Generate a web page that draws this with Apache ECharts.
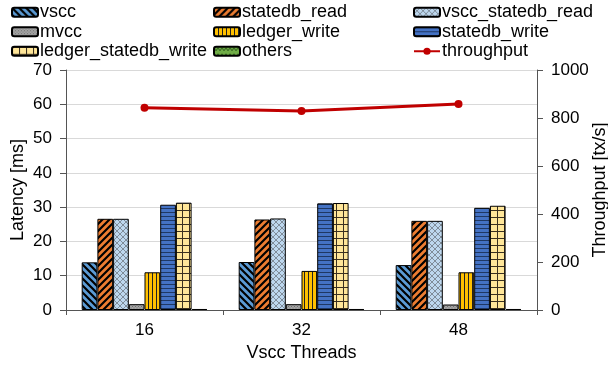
<!DOCTYPE html>
<html><head><meta charset="utf-8">
<script src="https://cdn.jsdelivr.net/npm/echarts@6/dist/echarts.min.js"></script>
<style>html,body{margin:0;padding:0;background:#fff}#c{width:608px;height:368px}</style>
</head><body><div id="c"></div>
<script>
const categories = ['16', '32', '48'];
const vscc = [13.9, 14.0, 13.1];
const statedb_read = [26.6, 26.4, 26.0];
const vscc_statedb_read = [26.6, 26.7, 26.0];
const mvcc = [1.7, 1.7, 1.6];
const ledger_write = [11.0, 11.4, 11.0];
const statedb_write = [30.7, 31.1, 29.8];
const ledger_statedb_write = [31.3, 31.2, 30.4];
const others = [0.3, 0.3, 0.3];
const throughput = [843, 829, 858];
const latencyTicks = [0, 70, 10];
const throughputTicks = [0, 1000, 200];

function pat(bg, w, h, draw) {
  const c = document.createElement('canvas');
  c.width = w; c.height = h;
  const x = c.getContext('2d');
  x.fillStyle = bg; x.fillRect(0, 0, w, h);
  draw(x, w, h);
  return { image: c, repeat: 'repeat' };
}
function lines(x, segs, color, lw) {
  x.strokeStyle = color; x.lineWidth = lw; x.beginPath();
  segs.forEach(s => { x.moveTo(s[0], s[1]); x.lineTo(s[2], s[3]); });
  x.stroke();
}
const P = {
  vscc: pat('#5B9BD5', 7, 7, (x, w) => lines(x, [[-2,-2,w+2,w+2],[-2,w-2,2,w+2],[w-2,-2,w+2,2]], '#000', 2.2)),
  statedb_read: pat('#ED7D31', 7, 7, (x, w) => lines(x, [[-2,w+2,w+2,-2],[-2,2,2,-2],[w-2,w+2,w+2,w-2]], '#000', 2.2)),
  vscc_statedb_read: pat('#BDD7EE', 6, 6, (x, w) => {
    lines(x, [[-1,-1,w+1,w+1],[-1,w+1,w+1,-1]], '#7f8c99', 1);
  }),
  mvcc: pat('#A5A5A5', 3, 3, (x) => { x.fillStyle = '#6f6f6f'; x.fillRect(0, 0, 1, 1); x.fillRect(1.5, 1.5, 1, 1); }),
  ledger_write: pat('#FFC000', 4, 4, (x) => lines(x, [[0.5,0,0.5,4]], '#222', 1)),
  statedb_write: pat('#4472C4', 4, 4, (x) => lines(x, [[0,0.5,4,0.5]], '#1F3864', 1)),
  ledger_statedb_write: pat('#FFE699', 7, 7, (x) => lines(x, [[0.5,0,0.5,7],[0,0.5,7,0.5]], '#3a3020', 1)),
  others: pat('#70AD47', 8, 6, (x) => {
    x.strokeStyle = '#2e5a1c'; x.lineWidth = 1; x.beginPath();
    x.moveTo(0, 1); x.lineTo(2, 4); x.lineTo(4, 1); x.lineTo(6, 4); x.lineTo(8, 1); x.stroke();
  })
};

const barDefs = [
  ['vscc', vscc], ['statedb_read', statedb_read], ['vscc_statedb_read', vscc_statedb_read],
  ['mvcc', mvcc], ['ledger_write', ledger_write], ['statedb_write', statedb_write],
  ['ledger_statedb_write', ledger_statedb_write], ['others', others]
];
const font = 'Liberation Sans, Arial, sans-serif';
const series = barDefs.map(([name, data]) => ({
  name, type: 'bar', data, yAxisIndex: 0,
  barGap: '0%', barCategoryGap: '20%',
  itemStyle: { color: P[name], borderColor: '#000', borderWidth: 1 },
  emphasis: { disabled: true }
}));
series.push({
  name: 'throughput', type: 'line', yAxisIndex: 1, data: throughput,
  symbol: 'circle', symbolSize: 8,
  lineStyle: { color: '#C00000', width: 3 },
  itemStyle: { color: '#C00000' }
});

const legendBase = {
  orient: 'vertical', top: -2, itemWidth: 26, itemHeight: 9, itemGap: 1,
  textStyle: { fontFamily: font, fontSize: 18, color: '#000', lineHeight: 18.5, padding: [0,0,0,-3] },
  selectedMode: false
};
const chart = echarts.init(document.getElementById('c'), null, { renderer: 'canvas' });
chart.setOption({
  animation: false,
  legend: [
    Object.assign({}, legendBase, { left: 6, data: ['vscc', 'mvcc', 'ledger_statedb_write'] }),
    Object.assign({}, legendBase, { left: 208, data: ['statedb_read', 'ledger_write', 'others'] }),
    Object.assign({}, legendBase, { left: 408, data: ['vscc_statedb_read', 'statedb_write', 'throughput'] })
  ],
  grid: { left: 66, right: 71, top: 70, bottom: 58, containLabel: false, outerBoundsMode: 'none' },
  xAxis: {
    type: 'category', data: categories,
    name: 'Vscc Threads', nameLocation: 'middle', nameGap: 34, nameMoveOverlap: false,
    nameTextStyle: { fontFamily: font, fontSize: 18, color: '#000' },
    axisLine: { lineStyle: { color: '#555', width: 1 } },
    axisTick: { show: true, length: 5, lineStyle: { color: '#555' } },
    axisLabel: { fontFamily: font, fontSize: 17, color: '#000', margin: 12 }
  },
  yAxis: [{
    type: 'value', min: latencyTicks[0], max: latencyTicks[1], interval: latencyTicks[2],
    name: 'Latency [ms]', nameLocation: 'middle', nameGap: 39, nameMoveOverlap: false,
    nameTextStyle: { fontFamily: font, fontSize: 18, color: '#000' },
    axisLine: { show: true, lineStyle: { color: '#555' } },
    axisTick: { show: true, length: 6, lineStyle: { color: '#555' } },
    axisLabel: { fontFamily: font, fontSize: 17, color: '#000', margin: 14 },
    splitLine: { lineStyle: { color: '#d9d9d9', width: 1 } }
  }, {
    type: 'value', min: throughputTicks[0], max: throughputTicks[1], interval: throughputTicks[2],
    name: 'Throughput [tx/s]', nameLocation: 'middle', nameGap: 54, nameRotate: 90, nameMoveOverlap: false,
    nameTextStyle: { fontFamily: font, fontSize: 18, color: '#000' },
    axisLine: { show: true, lineStyle: { color: '#555' } },
    axisTick: { show: true, length: 6, lineStyle: { color: '#555' } },
    axisLabel: { fontFamily: font, fontSize: 17, color: '#000', margin: 14, formatter: v => String(v) },
    splitLine: { show: false }
  }],
  series
});
</script></body></html>
